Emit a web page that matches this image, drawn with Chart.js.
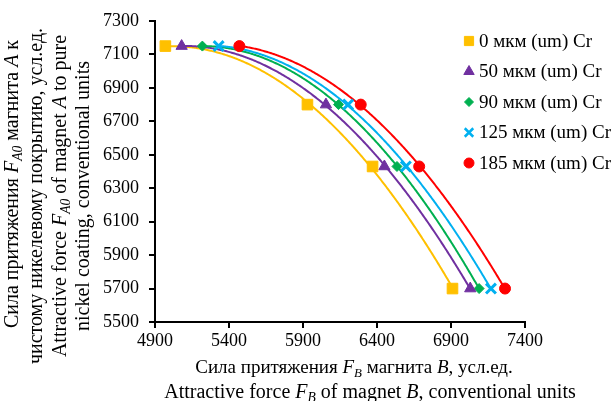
<!DOCTYPE html>
<html>
<head>
<meta charset="utf-8">
<script src="https://cdn.jsdelivr.net/npm/chart.js@4.4.0/dist/chart.umd.min.js"></script>
<style>
  html, body { margin: 0; padding: 0; background: #fff; }
  #wrap { width: 616px; height: 401px; }
</style>
</head>
<body>
<div id="wrap"><canvas id="chart" width="616" height="401"></canvas></div>
<script>
// Attraction force of magnet A (shared by all coatings) and of magnet B per Cr thickness
const seriesLabels = ['0 мкм (um) Cr', '50 мкм (um) Cr', '90 мкм (um) Cr', '125 мкм (um) Cr', '185 мкм (um) Cr'];
const forceA = [7150, 6800, 6430, 5700];
const forceB0 = [4970, 5930, 6370, 6910];
const forceB50 = [5080, 6055, 6450, 7030];
const forceB90 = [5220, 6140, 6535, 7090];
const forceB125 = [5330, 6205, 6595, 7170];
const forceB185 = [5470, 6290, 6685, 7265];
const xTicks = [4900, 5400, 5900, 6400, 6900, 7400];
const yTicks = [5500, 5700, 5900, 6100, 6300, 6500, 6700, 6900, 7100, 7300];

const colors = ['#FFC000', '#7030A0', '#00B050', '#00B0F0', '#FF0000'];
const styles = ['rect', 'triangle', 'rectRot', 'crossRot', 'circle'];
const radii = [7.5, 6.5, 5, 7, 5.5];
const legendRadii = [6.5, 6, 4.5, 6, 5];
const FONT = '"Liberation Serif", "Times New Roman", serif';

const seriesB = [forceB0, forceB50, forceB90, forceB125, forceB185];

const datasets = seriesB.map((xs, i) => ({
    label: seriesLabels[i],
    data: xs.map((x, k) => ({ x: x, y: forceA[k] })),
    showLine: false,
    pointStyle: styles[i],
    pointRadius: radii[i],
    pointBackgroundColor: colors[i],
    pointBorderColor: colors[i],
    pointBorderWidth: styles[i] === 'crossRot' ? 3 : 1,
    backgroundColor: colors[i],
    borderColor: colors[i]
}));

// least squares quadratic y = a + b*t + c*t^2, t = (x - x0) / 1000
function quadFit(pts) {
    const x0 = pts.reduce((s, p) => s + p.x, 0) / pts.length;
    const S = [0, 0, 0, 0, 0], T = [0, 0, 0];
    pts.forEach(p => {
        const t = (p.x - x0) / 1000;
        for (let k = 0; k < 5; k++) S[k] += Math.pow(t, k);
        for (let k = 0; k < 3; k++) T[k] += p.y * Math.pow(t, k);
    });
    const M = [[S[0], S[1], S[2], T[0]], [S[1], S[2], S[3], T[1]], [S[2], S[3], S[4], T[2]]];
    for (let i = 0; i < 3; i++) {
        for (let j = i + 1; j < 3; j++) {
            const f = M[j][i] / M[i][i];
            for (let k = i; k < 4; k++) M[j][k] -= f * M[i][k];
        }
    }
    const c = [0, 0, 0];
    for (let i = 2; i >= 0; i--) {
        let s = M[i][3];
        for (let k = i + 1; k < 3; k++) s -= M[i][k] * c[k];
        c[i] = s / M[i][i];
    }
    return x => { const t = (x - x0) / 1000; return c[0] + c[1] * t + c[2] * t * t; };
}

const trendlines = {
    id: 'trendlines',
    beforeDatasetsDraw(chart) {
        const ctx = chart.ctx;
        const sx = chart.scales.x, sy = chart.scales.y;
        ctx.save();
        chart.data.datasets.forEach(ds => {
            const f = quadFit(ds.data);
            const xs = ds.data.map(p => p.x);
            const lo = Math.min(...xs), hi = Math.max(...xs);
            ctx.beginPath();
            const px0 = sx.getPixelForValue(lo), px1 = sx.getPixelForValue(hi);
            for (let px = px0; px <= px1 + 0.01; px += 1) {
                const py = sy.getPixelForValue(f(sx.getValueForPixel(px)));
                if (px === px0) ctx.moveTo(px, py); else ctx.lineTo(px, py);
            }
            ctx.strokeStyle = ds.borderColor;
            ctx.lineWidth = 2;
            ctx.stroke();
        });
        ctx.restore();
    }
};

function runsWidth(ctx, runs, size) {
    let w = 0;
    runs.forEach(r => {
        ctx.font = (r.it ? 'italic ' : '') + (r.sub ? size * 0.68 : size) + 'px ' + FONT;
        w += ctx.measureText(r.t).width;
    });
    return w;
}

function drawRuns(ctx, runs, x, y, size) {
    runs.forEach(r => {
        const fs = r.sub ? size * 0.68 : size;
        ctx.font = (r.it ? 'italic ' : '') + fs + 'px ' + FONT;
        ctx.fillText(r.t, x, y + (r.sub ? size * 0.28 : 0));
        x += ctx.measureText(r.t).width;
    });
}

const xTitle = [
    [{ t: 'Сила притяжения ' }, { t: 'F', it: true }, { t: 'B', it: true, sub: true }, { t: ' магнита ' }, { t: 'B', it: true }, { t: ', усл.ед.' }],
    [{ t: 'Attractive force ' }, { t: 'F', it: true }, { t: 'B', it: true, sub: true }, { t: ' of magnet ' }, { t: 'B', it: true }, { t: ', conventional units' }]
];
const yTitle = [
    [{ t: 'Сила притяжения ' }, { t: 'F', it: true }, { t: 'A0', it: true, sub: true }, { t: ' магнита ' }, { t: 'A', it: true }, { t: ' к' }],
    [{ t: 'чистому никелевому покрытию, усл.ед.' }],
    [{ t: 'Attractive force ' }, { t: 'F', it: true }, { t: 'A0', it: true, sub: true }, { t: ' of magnet ' }, { t: 'A', it: true }, { t: ' to pure' }],
    [{ t: 'nickel coating, conventional units' }]
];

const titlesAndLegend = {
    id: 'titlesAndLegend',
    afterDraw(chart) {
        const ctx = chart.ctx;
        const size = 20;
        ctx.save();
        ctx.fillStyle = '#000';
        ctx.textBaseline = 'middle';
        ctx.textAlign = 'left';

        // x axis title, two centred lines
        const xLines = [{ y: 368, cx: 354, size: 19 }, { y: 393, cx: 370, size: 20 }];
        xLines.forEach((ln, i) => {
            const w = runsWidth(ctx, xTitle[i], ln.size);
            drawRuns(ctx, xTitle[i], ln.cx - w / 2, ln.y, ln.size);
        });

        // y axis title, rotated
        const cols = [13, 37, 61, 84];
        const mids = [184, 196, 196, 196];
        yTitle.forEach((runs, i) => {
            const w = runsWidth(ctx, runs, size);
            ctx.save();
            ctx.translate(cols[i], mids[i]);
            ctx.rotate(-Math.PI / 2);
            drawRuns(ctx, runs, -w / 2, 0, size);
            ctx.restore();
        });

        // legend
        chart.data.datasets.forEach((ds, i) => {
            const y = 41 + i * 30.5;
            ctx.fillStyle = ds.pointBackgroundColor;
            ctx.strokeStyle = ds.pointBorderColor;
            ctx.lineWidth = ds.pointStyle === 'crossRot' ? 2.5 : 1;
            Chart.helpers.drawPoint(ctx, { pointStyle: ds.pointStyle, radius: legendRadii[i], rotation: 0, borderWidth: ctx.lineWidth }, 469, y);
            ctx.fillStyle = '#000';
            ctx.font = '19px ' + FONT;
            ctx.fillText(ds.label, 479, y + 1);
        });
        ctx.restore();
    }
};

new Chart(document.getElementById('chart'), {
    type: 'scatter',
    data: { datasets: datasets },
    options: {
        responsive: false,
        animation: false,
        devicePixelRatio: 1,
        layout: { padding: { top: 21, right: 91, left: 0, bottom: 0 } },
        plugins: {
            legend: { display: false },
            tooltip: { enabled: false }
        },
        scales: {
            x: {
                type: 'linear',
                min: 4900,
                max: 7400,
                afterBuildTicks: s => { s.ticks = xTicks.map(v => ({ value: v })); },
                afterFit: s => { s.height = 79; },
                grid: { drawOnChartArea: false, drawTicks: true, tickLength: 6, color: '#000', lineWidth: 2 },
                border: { color: '#000', width: 2 },
                ticks: { color: '#000', font: { family: FONT, size: 18 }, padding: 2, maxRotation: 0, callback: v => String(v) }
            },
            y: {
                type: 'linear',
                min: 5500,
                max: 7300,
                afterBuildTicks: s => { s.ticks = yTicks.map(v => ({ value: v })); },
                afterFit: s => { s.width = 155; },
                grid: { drawOnChartArea: false, drawTicks: true, tickLength: 6, color: '#000', lineWidth: 2 },
                border: { color: '#000', width: 2 },
                ticks: { color: '#000', font: { family: FONT, size: 18 }, padding: 10, callback: v => String(v) }
            }
        }
    },
    plugins: [trendlines, titlesAndLegend]
});
</script>
</body>
</html>
